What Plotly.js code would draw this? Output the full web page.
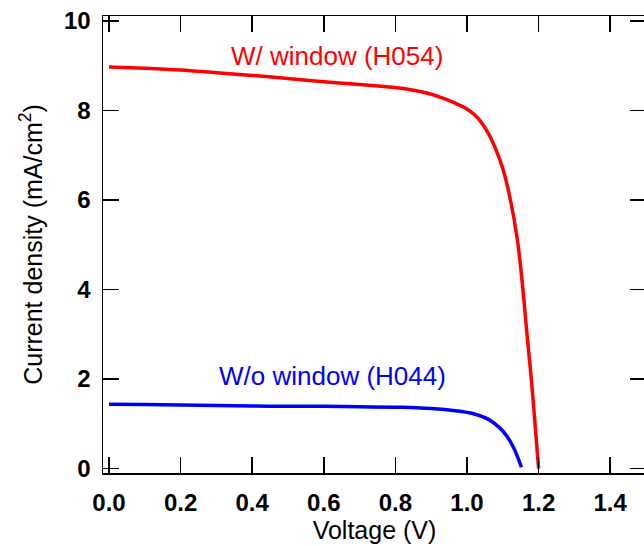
<!DOCTYPE html>
<html>
<head>
<meta charset="utf-8">
<script src="https://cdn.plot.ly/plotly-3.0.1.min.js"></script>
<style>
  html, body { margin: 0; padding: 0; background: #fff; overflow: hidden; }
  #chart { width: 650px; height: 546px; }
</style>
</head>
<body>
<div id="chart"></div>
<script>
// J-V curves of two cells, with and without window layer
const voltWith = [0, 0.1, 0.2, 0.3, 0.4, 0.5, 0.6, 0.7, 0.76, 0.81, 0.85, 0.9, 0.94, 0.97, 1.00, 1.03, 1.06, 1.08, 1.10, 1.12, 1.14, 1.155, 1.167, 1.18, 1.19, 1.20];
const jWith    = [8.97, 8.94, 8.90, 8.84, 8.78, 8.71, 8.64, 8.58, 8.54, 8.50, 8.45, 8.36, 8.25, 8.15, 8.03, 7.83, 7.48, 7.14, 6.70, 6.05, 5.15, 4.10, 3.05, 1.97, 1.00, 0.00];

const voltWithout = [0, 0.1, 0.2, 0.3, 0.4, 0.5, 0.6, 0.7, 0.8, 0.86, 0.92, 0.95, 0.98, 1.02, 1.06, 1.09, 1.11, 1.13, 1.152];
const jWithout    = [1.44, 1.43, 1.42, 1.41, 1.40, 1.39, 1.39, 1.38, 1.37, 1.36, 1.33, 1.31, 1.28, 1.22, 1.10, 0.92, 0.74, 0.47, 0.03];

const xTickVals = [0, 0.2, 0.4, 0.6, 0.8, 1.0, 1.2, 1.4];
const xTickText = ['0.0', '0.2', '0.4', '0.6', '0.8', '1.0', '1.2', '1.4'];
const yTickVals = [0, 2, 4, 6, 8, 10];
const yTickText = ['0', '2', '4', '6', '8', '10'];

const labelWith = 'W/ window (H054)';
const labelWithout = 'W/o window (H044)';

const FONT = 'Liberation Sans, Arial, sans-serif';

const traces = [
  {
    x: voltWith, y: jWith, type: 'scatter', mode: 'lines',
    line: { color: '#ff0000', width: 3.5, shape: 'spline', smoothing: 1 },
    hoverinfo: 'skip'
  },
  {
    x: voltWithout, y: jWithout, type: 'scatter', mode: 'lines',
    line: { color: '#0000ff', width: 3.5, shape: 'spline', smoothing: 1 },
    hoverinfo: 'skip'
  }
];

const axisCommon = {
  showgrid: false, zeroline: false,
  showline: true, linecolor: '#000', linewidth: 1.5,
  mirror: 'ticks', ticks: 'inside', ticklen: 16, tickwidth: 1.5, tickcolor: '#000',
  tickfont: { family: FONT, size: 24, color: '#000', weight: 'bold' }
};

const layout = {
  width: 650, height: 546,
  margin: { l: 103, r: 4, t: 16, b: 73 },
  paper_bgcolor: '#fff', plot_bgcolor: '#fff',
  showlegend: false,
  xaxis: Object.assign({}, axisCommon, {
    range: [-0.0168, 1.5],
    tickmode: 'array', tickvals: xTickVals, ticktext: xTickText,
    ticklabelstandoff: 8,
    title: { text: 'Voltage (V)', font: { family: FONT, size: 25, color: '#000' }, standoff: 4 }
  }),
  yaxis: Object.assign({}, axisCommon, {
    range: [-0.098, 10.107],
    tickmode: 'array', tickvals: yTickVals, ticktext: yTickText,
    ticklabelstandoff: 6,
    title: { text: 'Current density (mA/cm<sup>2</sup>)', font: { family: FONT, size: 25, color: '#000' }, standoff: 14 }
  }),
  annotations: [
    {
      x: 0.637, y: 9.21, xref: 'x', yref: 'y', text: labelWith, showarrow: false,
      font: { family: FONT, size: 26, color: '#ff0000' }
    },
    {
      x: 0.625, y: 2.06, xref: 'x', yref: 'y', text: labelWithout, showarrow: false,
      font: { family: FONT, size: 26, color: '#0000ff' }
    }
  ]
};

Plotly.newPlot('chart', traces, layout, { displayModeBar: false, staticPlot: true });
</script>
</body>
</html>
